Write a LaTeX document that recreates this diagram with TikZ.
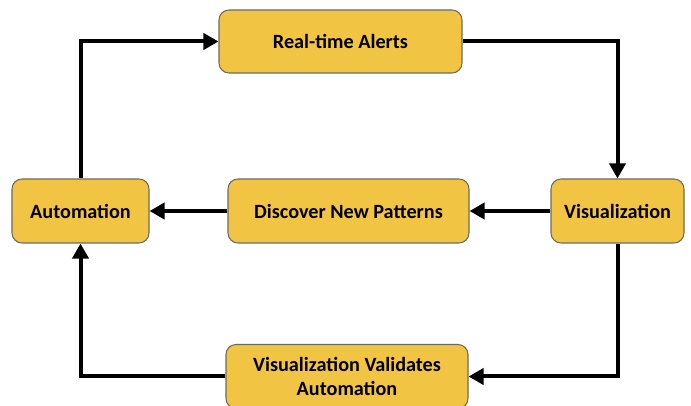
\documentclass[tikz,border=0pt]{standalone}
\usepackage{fontspec}
\setmainfont{Carlito}
\usetikzlibrary{positioning, arrows.meta}
\definecolor{stagefill}{HTML}{F2C443}
\definecolor{stageline}{HTML}{6E6A5E}
\tikzset{
    stage/.style={draw=stageline, line width=0.6pt, fill=stagefill, rounded corners=0.2cm, inner sep=0pt, minimum height=1.26cm, align=center, font=\fontsize{11.5}{13.6}\selectfont\bfseries},
    flow/.style={line width=0.08cm, -{Triangle[length=0.3cm, width=0.32cm]}}
}
\begin{document}
\begin{tikzpicture}
    \useasboundingbox (0,0) rectangle (13.82,-8.12);
    % --- Stages ---
    \node (alerts) [stage, minimum width=4.86cm] at (6.81,-0.83) {Real-time Alerts};
    \node (automation) [stage, minimum width=2.74cm, minimum height=1.28cm] at (1.61,-4.22) {Automation};
    \node (patterns) [stage, minimum width=4.82cm, minimum height=1.28cm] at (6.97,-4.22) {Discover New Patterns};
    \node (visual) [stage, minimum width=2.66cm, minimum height=1.28cm] at (12.35,-4.22) {Visualization};
    \node (validates) [stage, minimum width=4.84cm, minimum height=1.28cm] at (6.94,-7.53) {Visualization Validates\\Automation};

    % --- Cycle ---
    \draw[flow] (automation.north) |- (alerts.west);
    \draw[flow] (alerts.east) -| (visual.north);
    \draw[flow] (visual.west) -- (patterns.east);
    \draw[flow] (patterns.west) -- (automation.east);
    \draw[flow] (visual.south) |- (validates.east);
    \draw[flow] (validates.west) -| (automation.south);
\end{tikzpicture}
\end{document}
